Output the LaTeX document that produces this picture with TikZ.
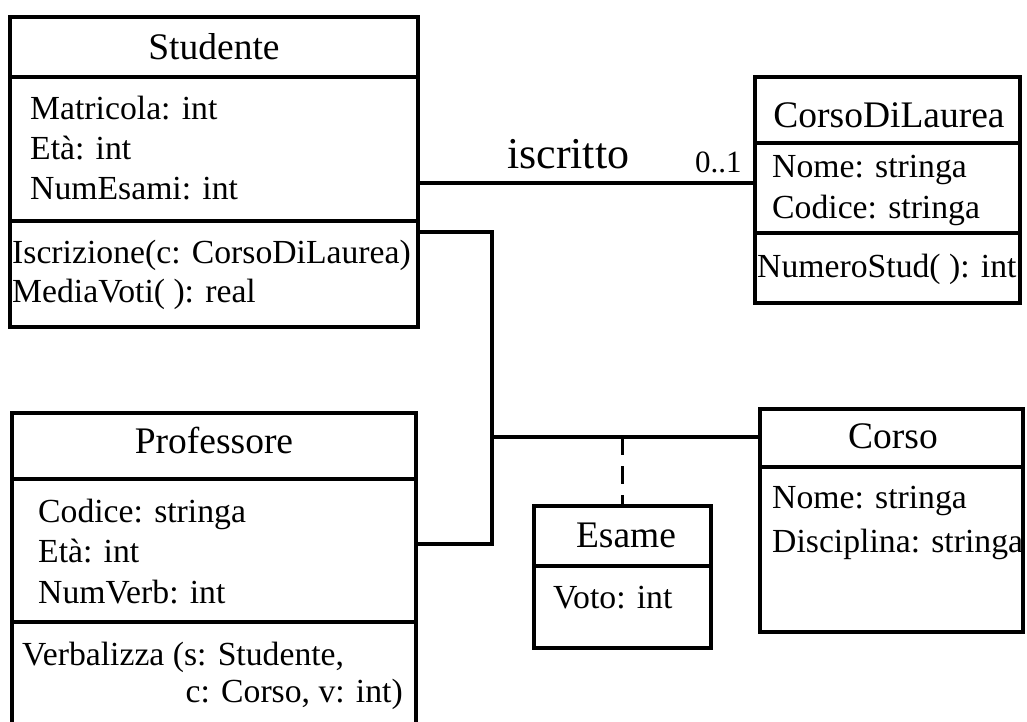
\documentclass[tikz,border=0pt]{standalone}
\usepackage{fontspec}
\setmainfont{Liberation Serif}
\usetikzlibrary{positioning, calc}

\tikzset{
  classbox/.style={draw, line width=3.5pt, anchor=north west, outer sep=0pt, inner sep=0pt},
  divider/.style={line width=3.5pt},
  link/.style={line width=3.2pt},
  linkdash/.style={line width=3.2pt, dash pattern=on 18pt off 11pt},
  classname/.style={anchor=base, inner sep=0pt, font=\fontsize{37.5}{45}\selectfont},
  member/.style={anchor=base west, inner sep=0pt, font=\fontsize{33.7}{40}\selectfont},
  rolelabel/.style={anchor=base west, inner sep=0pt},
}

\begin{document}
\begin{tikzpicture}[x=1pt, y=-1pt]
\useasboundingbox (0,0) rectangle (1027,722);
\clip (0,0) rectangle (1027,722);

% Studente
\node[classbox, minimum width=408pt, minimum height=310pt] (studente) at (10,17) {};
\draw[divider] (10,77) -- (418,77);
\draw[divider] (10,221) -- (418,221);
\node[classname] (studenteName) at (214,60) {Studente};
\node[member] (studenteMat) at (30,120) {Matricola: int};
\node[member] (studenteEta) at (30,160) {Età: int};
\node[member] (studenteNum) at (30,200) {NumEsami: int};
\node[member] (studenteIscr) at (12,263) {Iscrizione(c: CorsoDiLaurea)};
\node[member] (studenteMedia) at (12,302) {MediaVoti( ): real};

% CorsoDiLaurea
\node[classbox, minimum width=265pt, minimum height=226pt] (cdl) at (755,77) {};
\draw[divider] (755,143) -- (1020,143);
\draw[divider] (755,233) -- (1020,233);
\node[classname] (cdlName) at (889,128) {CorsoDiLaurea};
\node[member] (cdlNome) at (772,178) {Nome: stringa};
\node[member] (cdlCodice) at (772,218) {Codice: stringa};
\node[member] (cdlNumero) at (757,277) {NumeroStud( ): int};

% Professore
\node[classbox, minimum width=404pt, minimum height=330pt] (professore) at (12,413) {};
\draw[divider] (12,479) -- (416,479);
\draw[divider] (12,622) -- (416,622);
\node[classname] (profName) at (214,453) {Professore};
\node[member] (profCodice) at (38,522) {Codice: stringa};
\node[member] (profEta) at (38,562) {Età: int};
\node[member] (profNum) at (38,603) {NumVerb: int};
\node[member] (profVerb) at (22,665) {Verbalizza (s: Studente,};
\node[member, anchor=base east] (profVerbB) at (403,702) {c: Corso, v: int)};

% Esame
\node[classbox, minimum width=177pt, minimum height=142pt] (esame) at (534,506) {};
\draw[divider] (534,566) -- (711,566);
\node[classname] (esameName) at (626,547) {Esame};
\node[member] (esameVoto) at (553,608) {Voto: int};

% Corso
\node[classbox, minimum width=263pt, minimum height=223pt] (corso) at (760,409) {};
\draw[divider] (760,467) -- (1023,467);
\node[classname] (corsoName) at (893,448) {Corso};
\node[member] (corsoNome) at (772,508) {Nome: stringa};
\node[member] (corsoDisc) at (772,552) {Disciplina: stringa};

% associazioni
\coordinate (iscLine) at (0,183);
\draw[link] (studente.east |- iscLine) -- (cdl.west |- iscLine);
\node[rolelabel, font=\fontsize{44}{50}\selectfont] (iscritto) at (507,169) {iscritto};
\node[rolelabel, font=\fontsize{31}{36}\selectfont] (molt) at (695,172) {0..1};

\coordinate (esameTop) at (492,232);
\coordinate (esameBot) at (492,544);
\coordinate (esameJoin) at (492,437);
\draw[link] (studente.east |- esameTop) -- (esameTop) -- (esameBot) -- (professore.east |- esameBot);
\draw[link] (esameJoin) -- (corso.west |- esameJoin);
\draw[linkdash] (esame.north |- esameJoin) -- (esame.north);
\end{tikzpicture}
\end{document}
